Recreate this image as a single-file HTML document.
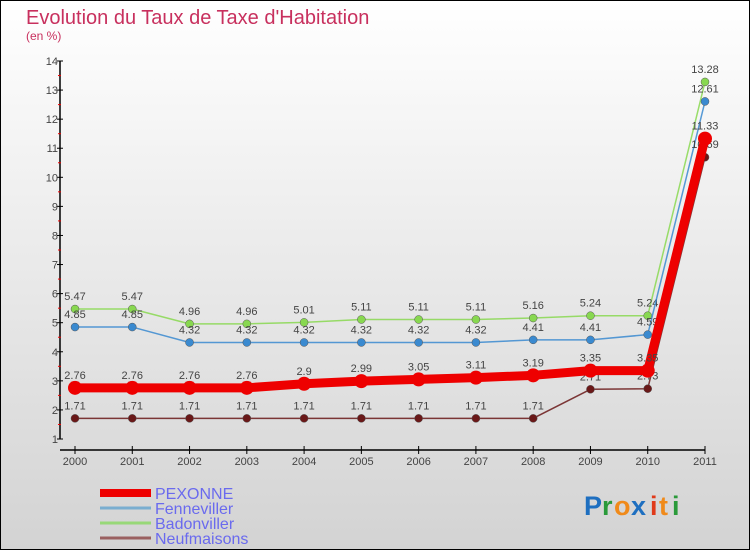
<!DOCTYPE html>
<html><head><meta charset="utf-8"><style>
html,body{margin:0;padding:0;}
body{width:750px;height:550px;overflow:hidden;font-family:"Liberation Sans",sans-serif;}
</style></head><body>
<svg id="chart" width="750" height="550" xmlns="http://www.w3.org/2000/svg">
<defs><linearGradient id="bg" x1="0" y1="0" x2="0" y2="1"><stop offset="0" stop-color="#ffffff"/><stop offset="1" stop-color="#d3d3d3"/></linearGradient></defs>
<rect x="0.5" y="0.5" width="749" height="549" fill="url(#bg)" stroke="#000"/>
<text x="26" y="24" font-size="20" fill="#c8305e">Evolution du Taux de Taxe d'Habitation</text>
<text x="26" y="40" font-size="12" fill="#c8305e">(en %)</text>
<g id="axes"></g>
<g id="series"></g>
<g id="legend"></g>
<g font-size="27" font-weight="bold" font-family="Liberation Sans, sans-serif">
<text x="584" y="515" fill="#1e6fc0">P</text><text x="602" y="515" fill="#2a9a3a">r</text><text x="614" y="515" fill="#f08a1a">o</text><text x="631" y="515" fill="#1e6fc0">x</text><text x="650" y="515" fill="#e03a1a">i</text><text x="659" y="515" fill="#f08a1a">t</text><text x="672" y="515" fill="#2a9a3a">i</text>
</g>
</svg>
<script>
const years=["2000","2001","2002","2003","2004","2005","2006","2007","2008","2009","2010","2011"];
const pexonne=[2.76,2.76,2.76,2.76,2.9,2.99,3.05,3.11,3.19,3.35,3.35,11.33];
const fenneviller=[4.85,4.85,4.32,4.32,4.32,4.32,4.32,4.32,4.41,4.41,4.59,12.61];
const badonviller=[5.47,5.47,4.96,4.96,5.01,5.11,5.11,5.11,5.16,5.24,5.24,13.28];
const neufmaisons=[1.71,1.71,1.71,1.71,1.71,1.71,1.71,1.71,1.71,2.71,2.73,10.69];
const yTicks=[1,2,3,4,5,6,7,8,9,10,11,12,13,14];
const NS="http://www.w3.org/2000/svg";
function X(i){return 75+i*(705-75)/11;}
function Y(v){return 439-(v-1)*(439-61)/13;}
function mk(tag,attrs,parent){const e=document.createElementNS(NS,tag);for(const k in attrs)e.setAttribute(k,attrs[k]);parent.appendChild(e);return e;}
const axes=document.getElementById('axes');
let a=mk('line',{x1:60,y1:61,x2:60,y2:439,stroke:'#000','stroke-width':1.5},axes);


a=mk('line',{x1:60,y1:450,x2:705,y2:450,stroke:'#000','stroke-width':1.5},axes);


yTicks.forEach(v=>{const y=Y(v);
 mk('line',{x1:57,y1:y,x2:63,y2:y,stroke:'#000'},axes);
 if(v<14) mk('line',{x1:58,y1:Y(v+0.5),x2:61,y2:Y(v+0.5),stroke:'#e00'},axes);
 const t=mk('text',{x:58,y:y+4,'text-anchor':'end','font-size':11,fill:'#444'},axes);t.textContent=v;
 
 
});
years.forEach((yr,i)=>{const x=X(i);
 mk('line',{x1:x,y1:446,x2:x,y2:454,stroke:'#000'},axes);
 const t=mk('text',{x:x,y:465,'text-anchor':'middle','font-size':11,fill:'#444'},axes);t.textContent=yr;
 
 
});
const series=[
 {name:'badonviller',data:badonviller,color:'#88d850',w:1.5,r:4},
 {name:'fenneviller',data:fenneviller,color:'#3a8ad0',w:1.5,r:4},
 {name:'neufmaisons',data:neufmaisons,color:'#6a1818',w:1.5,r:4},
 {name:'pexonne',data:pexonne,color:'#ee0000',w:9,r:7}
];
const sg=document.getElementById('series');
series.forEach(s=>{
 const g=mk('g',{},sg);
 
 
 const pts=s.data.map((v,i)=>X(i)+','+Y(v)).join(' ');
 mk('polyline',{points:pts,fill:'none',stroke:s.color,'stroke-width':s.w,'stroke-linejoin':'round',opacity:s.w>2?1:0.85},g);
 s.data.forEach((v,i)=>{
  const c=mk('circle',{cx:X(i),cy:Y(v),r:s.r,fill:s.color,stroke:s.w>2?'none':'#555','stroke-width':0.5},g);
  
  
  const t=mk('text',{x:X(i),y:Y(v)-9,'text-anchor':'middle','font-size':11,fill:'#444'},g);t.textContent=v;
  
  
 });
});
const lg=document.getElementById('legend');
const leg=[['PEXONNE','#ee0000',8],['Fenneviller','#7aaed0',3],['Badonviller','#98d878',3],['Neufmaisons','#9a6060',3]];
leg.forEach((l,i)=>{const y=493+i*15;
 const g=mk('g',{},lg);
 
 
 mk('line',{x1:100,y1:y,x2:151,y2:y,stroke:l[1],'stroke-width':l[2]},g);
 const t=mk('text',{x:155,y:y+6,'font-size':16,fill:'#6a6aee'},g);t.textContent=l[0];
});
</script>
</body></html>
